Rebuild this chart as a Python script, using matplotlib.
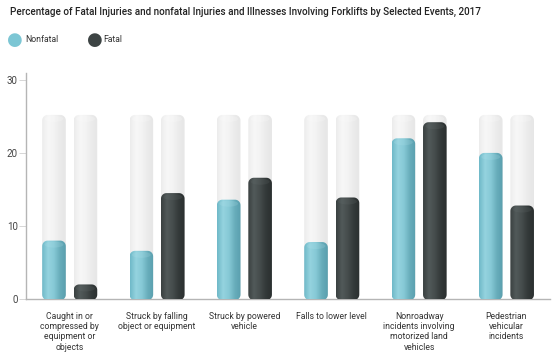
import numpy as np
import matplotlib
matplotlib.use("Agg")
import matplotlib.pyplot as plt
from matplotlib.path import Path
from matplotlib.patches import PathPatch, Ellipse
from matplotlib.colors import LinearSegmentedColormap

plt.rcParams["font.family"] = ["Roboto", "DejaVu Sans"]

# data
categories = [
    "Caught in or\ncompressed by\nequipment or\nobjects",
    "Struck by falling\nobject or equipment",
    "Struck by powered\nvehicle",
    "Falls to lower level",
    "Nonroadway\nincidents involving\nmotorized land\nvehicles",
    "Pedestrian\nvehicular\nincidents",
]
nonfatal = [8.0, 6.6, 13.6, 7.8, 22.0, 20.0]
fatal = [2.0, 14.5, 16.6, 13.9, 24.2, 12.8]
track_max = 25.2

title = "Percentage of Fatal Injuries and nonfatal Injuries and Illnesses Involving Forklifts by Selected Events, 2017"

teal_cmap = LinearSegmentedColormap.from_list(
    "teal", ["#6fb9c8", "#95d3df", "#86c9d6", "#68adbb", "#5a9fae"])
dark_cmap = LinearSegmentedColormap.from_list(
    "dark", ["#3a4141", "#525a5a", "#454c4c", "#333939", "#2b3030"])
grey_cmap = LinearSegmentedColormap.from_list(
    "grey", ["#ececec", "#f7f7f7", "#f3f3f3", "#ebebeb", "#e6e6e6"])

fig = plt.figure(figsize=(5.54, 3.59), dpi=100)
ax = fig.add_axes([0.047, 0.167, 0.946, 0.631])

XMIN, XMAX, YMIN, YMAX = -0.5, 5.5, 0, 31
ax.set_xlim(XMIN, XMAX)
ax.set_ylim(YMIN, YMAX)

# pixel -> data conversions for rounding corners
px_x = (XMAX - XMIN) / (0.946 * 554)
px_y = (YMAX - YMIN) / (0.631 * 359)


def cylinder_path(xc, w, h, r_px=5.5):
    rx = min(r_px * px_x, w / 2)
    ry = min(r_px * px_y, h / 2)
    x0, x1 = xc - w / 2, xc + w / 2
    t = np.linspace(0, np.pi / 2, 12)
    verts = []
    verts += list(zip(x0 + rx - rx * np.cos(t), -0.15 + ry - ry * np.sin(t)))
    verts += list(zip(x1 - rx + rx * np.sin(t), -0.15 + ry - ry * np.cos(t)))
    verts += list(zip(x1 - rx + rx * np.cos(t), h - ry + ry * np.sin(t)))
    verts += list(zip(x0 + rx - rx * np.sin(t), h - ry + ry * np.cos(t)))
    verts.append(verts[0])
    codes = [Path.MOVETO] + [Path.LINETO] * (len(verts) - 2) + [Path.CLOSEPOLY]
    return Path(verts, codes)


grad = np.linspace(0, 1, 64).reshape(1, -1)


def draw_cylinder(xc, w, h, cmap, cap_color, z):
    patch = PathPatch(cylinder_path(xc, w, h), facecolor="none",
                      edgecolor="none", zorder=z)
    ax.add_patch(patch)
    im = ax.imshow(grad, cmap=cmap, aspect="auto", zorder=z,
                   extent=[xc - w / 2, xc + w / 2, -0.2, h + 0.1])
    im.set_clip_path(patch)
    cap = Ellipse((xc, h - 4 * px_y), w * 0.8, 6 * px_y,
                  facecolor=cap_color, edgecolor="none", alpha=0.18, zorder=z + 0.5)
    ax.add_patch(cap)
    cap.set_clip_path(patch)


x = np.arange(len(categories))
off = 0.18
bw = 0.27
for i in x:
    draw_cylinder(i - off, bw, track_max, grey_cmap, "#ffffff", 1)
    draw_cylinder(i + off, bw, track_max, grey_cmap, "#ffffff", 1)
    draw_cylinder(i - off, bw, nonfatal[i], teal_cmap, "#b8e6ee", 3)
    draw_cylinder(i + off, bw, fatal[i], dark_cmap, "#6a7373", 3)

ax.set_xlim(XMIN, XMAX)
ax.set_ylim(YMIN, YMAX)

for s in ["top", "right"]:
    ax.spines[s].set_visible(False)
ax.spines["left"].set_color("#b5b5b5")
ax.spines["bottom"].set_color("#b5b5b5")
ax.spines["left"].set_linewidth(1.0)
ax.spines["bottom"].set_linewidth(1.0)

ax.set_yticks([0, 10, 20, 30])
ax.tick_params(axis="y", length=5, width=0.6, color="#d0d0d0",
               labelsize=7, labelcolor="#444444", pad=1)
ax.set_xticks(x)
ax.set_xticklabels(categories, fontsize=6.2, color="#333333", linespacing=1.2)
ax.tick_params(axis="x", length=0, pad=9)

fig.text(0.018, 0.966, title, fontsize=7.1, color="#222222",
         fontweight="medium", va="center", ha="left")

# legend
fig.text(0.026, 0.889, "\u25cf", fontsize=13, color="#7cc6d4", va="center", ha="center")
fig.text(0.045, 0.889, "Nonfatal", fontsize=6.2, color="#333333", va="center")
fig.text(0.171, 0.889, "\u25cf", fontsize=13, color="#3d4444", va="center", ha="center")
fig.text(0.187, 0.889, "Fatal", fontsize=6.2, color="#333333", va="center")

fig.savefig("out.png", dpi=100, facecolor="white")
